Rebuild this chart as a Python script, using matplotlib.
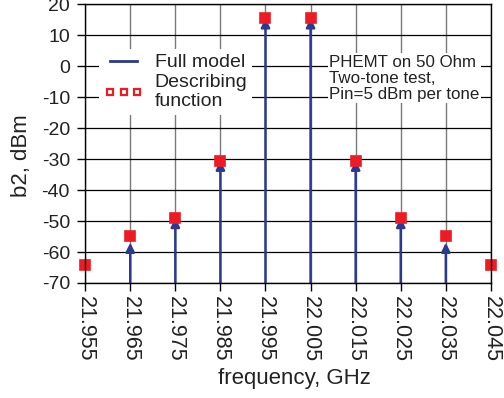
import numpy as np
import matplotlib
matplotlib.use("Agg")
from matplotlib import pyplot as plt
from matplotlib.lines import Line2D

plt.rcParams['font.family'] = ['Liberation Sans', 'DejaVu Sans']

freq = [21.955, 21.965, 21.975, 21.985, 21.995, 22.005, 22.015, 22.025, 22.035, 22.045]
full_model = [np.nan, -57.0, -49.0, -30.5, 15.5, 15.5, -30.5, -49.0, -57.0, np.nan]
describing = [-64.3, -54.8, -49.0, -30.7, 15.6, 15.6, -30.7, -49.0, -54.8, -64.3]
y_ticks = list(range(-70, 21, 10))

blue = '#2b3990'
red = '#ed1c24'
txt = '#222222'

fig = plt.figure(figsize=(5.04, 3.98), dpi=100)
ax = fig.add_axes([0.169, 0.289, 0.805, 0.70])
ax.set_xlim(21.955, 22.045)
ax.set_ylim(-70, 20)

# grid: gray verticals, black horizontals
for f in freq:
    ax.axvline(f, color='#7a7a7a', lw=1.0, zorder=1)
for y in y_ticks:
    ax.axhline(y, color='black', lw=0.9, zorder=1)

# full model spectrum as arrows
for f, v in zip(freq, full_model):
    if np.isnan(v):
        continue
    ax.annotate('', xy=(f, v), xytext=(f, -70),
                arrowprops=dict(arrowstyle='-|>', color=blue, lw=1.8,
                                mutation_scale=13, shrinkA=0, shrinkB=0),
                zorder=3)

ax.plot(freq, describing, linestyle='none', marker='s', ms=6.5, color=red,
        mec=red, mew=1.2, zorder=4, clip_on=False)

ax.set_xticks(freq)
ax.set_xticklabels([f"{f:.3f}" for f in freq], rotation=-90, fontsize=15.5,
                   color=txt)
ax.set_yticks(y_ticks)
ax.set_yticklabels([str(y) for y in y_ticks], fontsize=14, color=txt)
ax.tick_params(direction='out', length=6, width=1)
ax.tick_params(axis='y', pad=5)
for s in ax.spines.values():
    s.set_linewidth(1.0)
    s.set_zorder(5)

ax.set_xlabel('frequency, GHz', fontsize=16, color=txt, va='center')
ax.xaxis.set_label_coords(0.517, -0.342)
ax.set_ylabel('b2, dBm', fontsize=16, color=txt, va='center')
ax.yaxis.set_label_coords(-0.157, 0.457)

handles = [
    Line2D([], [], color=blue, lw=2.0),
    Line2D([], [], linestyle='none', marker='s', ms=4.5, mfc='white',
           mec=red, mew=1.6),
]
leg = ax.legend(handles, ['Full model', 'Describing\nfunction'],
                loc='upper left', bbox_to_anchor=(0.035, 0.84),
                fontsize=14, frameon=True, fancybox=False, edgecolor='none',
                framealpha=1.0, numpoints=3, handlelength=2.0,
                borderpad=0.25, labelspacing=0.12, handletextpad=0.6,
                borderaxespad=0)
for t in leg.get_texts():
    t.set_color(txt)
    t.set_linespacing(1.2)
leg.set_zorder(6)

ax.text(0.601, 0.735, 'PHEMT on 50 Ohm\nTwo-tone test,\nPin=5 dBm per tone',
        transform=ax.transAxes, fontsize=12.2, va='center', ha='left',
        linespacing=1.08, zorder=6, color=txt,
        bbox=dict(facecolor='white', edgecolor='none', pad=1.0))

fig.savefig('out.png', dpi=100)
